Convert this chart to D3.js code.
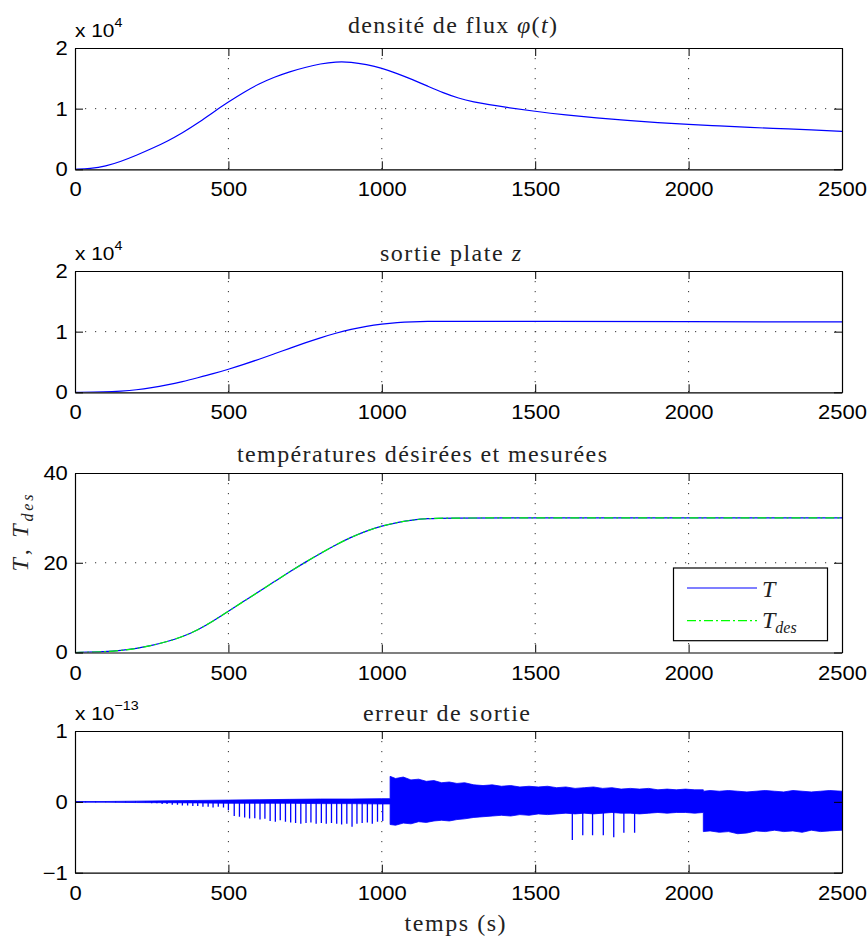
<!DOCTYPE html>
<html><head><meta charset="utf-8">
<script src="https://cdn.jsdelivr.net/npm/d3@7"></script>
<style>body{margin:0;background:#fff}svg{display:block}</style>
</head><body>
<script>
// ---------- data ----------
const xTicks = [0, 500, 1000, 1500, 2000, 2500];

// panel 1 : flux density phi(t)  (x 1e4)
const phiT = [0, 50, 100, 150, 200, 250, 300, 350, 400, 450, 500, 550, 600, 650, 700, 750, 800, 850, 900, 950, 1000, 1050, 1100, 1150, 1200, 1250, 1300, 1350, 1400, 1500, 1600, 1700, 1800, 1900, 2000, 2100, 2200, 2300, 2400, 2500];
const phiV = [0, 0.012, 0.05, 0.13, 0.23, 0.34, 0.46, 0.60, 0.76, 0.94, 1.11, 1.27, 1.41, 1.52, 1.61, 1.68, 1.74, 1.775, 1.77, 1.73, 1.67, 1.58, 1.48, 1.37, 1.26, 1.17, 1.11, 1.065, 1.025, 0.955, 0.895, 0.845, 0.805, 0.77, 0.74, 0.715, 0.69, 0.67, 0.65, 0.625];

// panel 2 : flat output z  (x 1e4)
const zT = [0, 100, 150, 200, 250, 300, 350, 400, 450, 500, 550, 600, 650, 700, 750, 800, 850, 900, 950, 1000, 1050, 1100, 1150, 1200, 1500, 2000, 2500];
const zV = [0, 0.005, 0.02, 0.04, 0.075, 0.12, 0.175, 0.24, 0.305, 0.38, 0.46, 0.545, 0.635, 0.725, 0.815, 0.90, 0.975, 1.04, 1.09, 1.125, 1.15, 1.163, 1.169, 1.17, 1.17, 1.165, 1.16];

// panel 3 : temperatures T and T_des
const tempT = [0, 100, 150, 200, 250, 300, 350, 400, 450, 500, 550, 600, 650, 700, 750, 800, 850, 900, 950, 1000, 1050, 1100, 1150, 1200, 1500, 2000, 2500];
const tV    = [0, 0.15, 0.45, 0.9, 1.55, 2.4, 3.5, 5.0, 7.0, 9.2, 11.4, 13.6, 15.8, 18.0, 20.1, 22.1, 24.0, 25.7, 27.1, 28.2, 29.0, 29.55, 29.85, 29.97, 30, 30, 30];
const tdesV = [0, 0.15, 0.45, 0.9, 1.55, 2.4, 3.5, 5.0, 7.0, 9.2, 11.4, 13.6, 15.8, 18.0, 20.1, 22.1, 24.0, 25.7, 27.1, 28.2, 29.0, 29.55, 29.85, 29.97, 30, 30, 30];

// panel 4 : output error (x 1e-13) : noise band envelope
const errT  = [0, 100, 200, 300, 400, 500, 600, 700, 800, 900, 1000, 1027, 1027, 1045, 1070, 1095, 1120, 1145, 1170, 1195, 1220, 1245, 1270, 1300, 1330, 1360, 1390, 1420, 1450, 1480, 1510, 1540, 1570, 1600, 1630, 1660, 1690, 1720, 1750, 1780, 1810, 1840, 1870, 1900, 1930, 1960, 1990, 2020, 2048, 2048, 2070, 2100, 2130, 2160, 2190, 2220, 2250, 2280, 2310, 2340, 2370, 2400, 2430, 2460, 2500];
const errUp = [0.005, 0.005, 0.01, 0.015, 0.02, 0.025, 0.03, 0.035, 0.04, 0.04, 0.045, 0.045, 0.36, 0.33, 0.35, 0.31, 0.32, 0.29, 0.30, 0.27, 0.28, 0.26, 0.27, 0.24, 0.23, 0.24, 0.22, 0.23, 0.21, 0.22, 0.21, 0.22, 0.20, 0.21, 0.19, 0.20, 0.21, 0.19, 0.20, 0.18, 0.19, 0.18, 0.19, 0.17, 0.18, 0.17, 0.18, 0.17, 0.17, 0.15, 0.16, 0.15, 0.16, 0.15, 0.14, 0.15, 0.16, 0.15, 0.14, 0.16, 0.15, 0.14, 0.15, 0.16, 0.15];
const errLo = [-0.005, -0.005, -0.01, -0.012, -0.015, -0.02, -0.02, -0.02, -0.025, -0.025, -0.03, -0.03, -0.32, -0.33, -0.30, -0.31, -0.28, -0.29, -0.27, -0.26, -0.27, -0.25, -0.24, -0.22, -0.21, -0.20, -0.19, -0.20, -0.18, -0.19, -0.17, -0.18, -0.17, -0.16, -0.17, -0.16, -0.17, -0.16, -0.15, -0.16, -0.16, -0.17, -0.16, -0.15, -0.16, -0.15, -0.15, -0.16, -0.15, -0.42, -0.41, -0.43, -0.42, -0.45, -0.44, -0.41, -0.42, -0.40, -0.42, -0.41, -0.43, -0.40, -0.42, -0.41, -0.40];
// downward spikes
const spikeT = [250, 267, 284, 300, 317, 334, 350, 367, 384, 400, 417, 434, 450, 467, 484, 500, 519, 536, 553, 569, 586, 603, 619, 636, 653, 669, 686, 703, 719, 736, 753, 769, 786, 803, 819, 836, 853, 869, 886, 903, 919, 936, 953, 969, 986, 1003, 1621, 1655, 1687, 1722, 1756, 1789, 1824];
const spikeV = [-0.02, -0.02, -0.03, -0.03, -0.04, -0.04, -0.05, -0.05, -0.06, -0.06, -0.07, -0.07, -0.08, -0.07, -0.08, -0.12, -0.20, -0.21, -0.22, -0.235, -0.23, -0.25, -0.24, -0.27, -0.28, -0.26, -0.28, -0.29, -0.30, -0.31, -0.30, -0.29, -0.31, -0.30, -0.31, -0.30, -0.31, -0.32, -0.31, -0.35, -0.31, -0.30, -0.29, -0.31, -0.28, -0.27, -0.54, -0.47, -0.47, -0.47, -0.50, -0.435, -0.435];

const yTickVals = [[0, 1, 2], [0, 1, 2], [0, 20, 40], [-1, 0, 1]];
const yTickLabels = [["0", "1", "2"], ["0", "1", "2"], ["0", "20", "40"], ["\u22121", "0", "1"]];
const exponents = ["4", "4", null, "\u221213"];

// ---------- layout ----------
const W = 868, H = 938;
const SANS = "'Liberation Sans', Arial, Helvetica, sans-serif";
const SERIF = "'Liberation Serif', 'Times New Roman', serif";
const SX = 1.1;
const svg = d3.select("body").append("svg").attr("width", W).attr("height", H);
svg.append("rect").attr("width", W).attr("height", H).attr("fill", "#fff");

const x = d3.scaleLinear().domain([0, 2500]).range([75, 842]);
const boxes = [
  {top: 48, bottom: 169.3, dom: [0, 2]},
  {top: 271, bottom: 392.3, dom: [0, 2]},
  {top: 473, bottom: 652.5, dom: [0, 40]},
  {top: 731, bottom: 872.7, dom: [-1, 1]}
];
const ys = boxes.map(b => d3.scaleLinear().domain(b.dom).range([b.bottom, b.top]));

boxes.forEach((b, i) => {
  const y = ys[i];
  const g = svg.append("g");
  svg.append("clipPath").attr("id", "clip" + i).append("rect")
    .attr("x", x.range()[0]).attr("y", b.top).attr("width", x.range()[1] - x.range()[0]).attr("height", b.bottom - b.top);
  // grid
  const grid = g.append("g").attr("stroke", "#333").attr("stroke-width", 1).attr("stroke-dasharray", "1.2,8.8");
  xTicks.slice(1, -1).forEach(t => grid.append("line").attr("x1", x(t)).attr("x2", x(t)).attr("y1", b.top).attr("y2", b.bottom));
  yTickVals[i].slice(1, -1).forEach(v => grid.append("line").attr("x1", x.range()[0]).attr("x2", x.range()[1]).attr("y1", y(v)).attr("y2", y(v)));

  const plot = g.append("g").attr("clip-path", `url(#clip${i})`);
  const line = (xs, vs) => d3.line().x((d, k) => x(xs[k])).y((d, k) => y(vs[k])).curve(d3.curveBasis)(xs);
  if (i === 0) {
    plot.append("path").attr("d", line(phiT, phiV)).attr("fill", "none").attr("stroke", "#0000ff").attr("stroke-width", 1.2);
  } else if (i === 1) {
    plot.append("path").attr("d", line(zT, zV)).attr("fill", "none").attr("stroke", "#0000ff").attr("stroke-width", 1.2);
  } else if (i === 2) {
    plot.append("path").attr("d", line(tempT, tV)).attr("fill", "none").attr("stroke", "#0000ff").attr("stroke-width", 1.2);
    plot.append("path").attr("d", line(tempT, tdesV)).attr("fill", "none").attr("stroke", "#00ff00").attr("stroke-width", 1.2).attr("stroke-dasharray", "9,3,2,3");
  } else {
    const area = d3.area().x((d, k) => x(errT[k])).y0((d, k) => y(errLo[k])).y1((d, k) => y(errUp[k]));
    plot.append("path").attr("d", area(errT)).attr("fill", "#0000ff").attr("stroke", "#0000ff").attr("stroke-width", 0.8);
    plot.selectAll("line.sp").data(spikeT).join("line").attr("class", "sp")
      .attr("x1", d => x(d)).attr("x2", d => x(d))
      .attr("y1", y(0)).attr("y2", (d, k) => y(spikeV[k]))
      .attr("stroke", "#0000ff").attr("stroke-width", 1.3);
  }

  // axes
  const styleAxis = a => { a.attr("color", "#000"); a.select(".domain").attr("stroke-width", 1.2); a.selectAll(".tick line").attr("stroke-width", 1); };
  const bottom = g.append("g").attr("transform", `translate(0,${b.bottom})`)
    .call(d3.axisBottom(x).tickValues(xTicks).tickSize(-8).tickSizeOuter(0).tickPadding(13).tickFormat(d3.format("d")));
  styleAxis(bottom);
  bottom.selectAll("text").attr("font-family", SANS).attr("font-size", 20).attr("transform", `scale(${SX},1)`);
  const top = g.append("g").attr("transform", `translate(0,${b.top})`)
    .call(d3.axisTop(x).tickValues(xTicks).tickSize(-8).tickSizeOuter(0).tickFormat(""));
  styleAxis(top);
  const left = g.append("g").attr("transform", `translate(${x.range()[0]},0)`)
    .call(d3.axisLeft(y).tickValues(yTickVals[i]).tickSize(-8).tickSizeOuter(0).tickPadding(6.5)
      .tickFormat((d, k) => yTickLabels[i][k]));
  styleAxis(left);
  left.selectAll("text").attr("font-family", SANS).attr("font-size", 20).attr("transform", `scale(${SX},1)`);
  const right = g.append("g").attr("transform", `translate(${x.range()[1]},0)`)
    .call(d3.axisRight(y).tickValues(yTickVals[i]).tickSize(-8).tickSizeOuter(0).tickFormat(""));
  styleAxis(right);

  if (exponents[i]) {
    const e = g.append("text").attr("transform", `translate(75,${b.top - 10.7}) scale(${SX},1)`)
      .attr("font-family", SANS).attr("font-size", 19);
    e.append("tspan").text("x 10");
    e.append("tspan").attr("font-size", 13).attr("dy", -10).text(exponents[i]);
  }
});

// titles
function serifText(xs, ys, width, parts, size) {
  const t = svg.append("text").attr("x", xs).attr("y", ys).attr("font-family", SERIF).attr("font-size", size || 22)
    .attr("fill", "#222").attr("textLength", width).attr("lengthAdjust", "spacing");
  parts.forEach(p => {
    const s = t.append("tspan").text(p.t);
    if (p.i) s.attr("font-style", "italic");
  });
  return t;
}
serifText(348, 33.3, 209, [{t: "densité de flux "}, {t: "φ", i: 1}, {t: "("}, {t: "t", i: 1}, {t: ")"}], 24);
serifText(380, 261, 141, [{t: "sortie plate "}, {t: "z", i: 1}], 24);
serifText(237, 462, 370, [{t: "températures désirées et mesurées"}], 24);
serifText(363, 721, 167, [{t: "erreur de sortie"}], 24);
serifText(404.6, 931, 101, [{t: "temps (s)"}], 24);

// y label of panel 3
{
  const t = svg.append("text").attr("transform", "translate(28,533) rotate(-90)")
    .attr("text-anchor", "middle").attr("font-family", SERIF).attr("font-size", 24).attr("font-style", "italic")
    .attr("fill", "#222").attr("textLength", 77).attr("lengthAdjust", "spacing");
  t.append("tspan").text("T");
  t.append("tspan").attr("font-style", "normal").text(", ");
  t.append("tspan").text("T");
  t.append("tspan").attr("font-size", 16).attr("dy", 5).text("des");
}

// legend
{
  const lg = svg.append("g");
  lg.append("rect").attr("x", 673.5).attr("y", 568).attr("width", 154).attr("height", 72.7)
    .attr("fill", "#fff").attr("stroke", "#000").attr("stroke-width", 1.2);
  lg.append("line").attr("x1", 687).attr("x2", 757).attr("y1", 588).attr("y2", 588).attr("stroke", "#0000ff").attr("stroke-width", 1.2);
  lg.append("line").attr("x1", 687).attr("x2", 757).attr("y1", 620.7).attr("y2", 620.7).attr("stroke", "#00ff00").attr("stroke-width", 1.2).attr("stroke-dasharray", "9,3,2,3");
  lg.append("text").attr("x", 762).attr("y", 596.5).attr("font-family", SERIF).attr("font-size", 24).attr("font-style", "italic").attr("fill", "#222").text("T");
  const t2 = lg.append("text").attr("x", 762).attr("y", 628).attr("font-family", SERIF).attr("font-size", 24).attr("font-style", "italic").attr("fill", "#222");
  t2.append("tspan").text("T");
  t2.append("tspan").attr("font-size", 16).attr("dy", 5).text("des");
}
</script>
</body></html>
